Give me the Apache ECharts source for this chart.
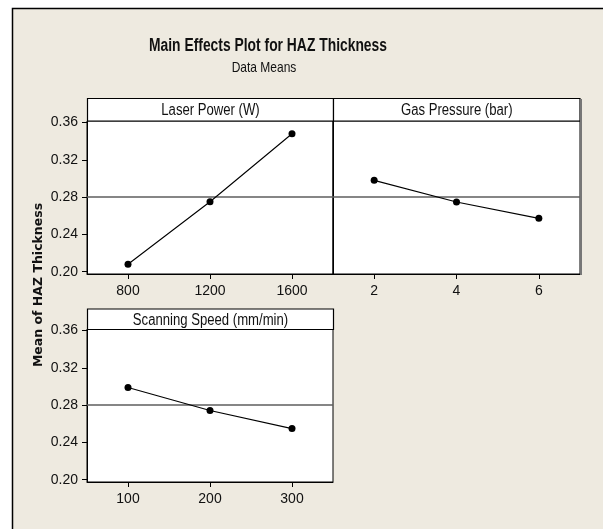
<!DOCTYPE html>
<html>
<head>
<meta charset="utf-8">
<script src="https://cdn.jsdelivr.net/npm/echarts@6/dist/echarts.min.js"></script>
<style>
html,body{margin:0;padding:0;background:#ffffff;}
#chart{width:603px;height:529px;}
</style>
</head>
<body>
<div id="chart"></div>
<script>
// ---- data ----
const titleText = 'Main Effects Plot for HAZ Thickness';
const subtitleText = 'Data Means';
const yAxisTitle = 'Mean of HAZ Thickness';
const panelNames = ['Laser Power (W)', 'Gas Pressure (bar)', 'Scanning Speed (mm/min)'];
const laserLevels = [800, 1200, 1600];
const laserMeans = [0.208, 0.275, 0.348];
const gasLevels = [2, 4, 6];
const gasMeans = [0.298, 0.2747, 0.2572];
const speedLevels = [100, 200, 300];
const speedMeans = [0.299, 0.2742, 0.2548];
const grandMean = 0.2755;
const yTicks = [0.20, 0.24, 0.28, 0.32, 0.36];

const FONT = '"Liberation Sans", Arial, sans-serif';
const chart = echarts.init(document.getElementById('chart'), null, {renderer: 'canvas'});

const grids = [
  {left: 87, top: 121, width: 246, height: 153},
  {left: 333, top: 121, width: 247, height: 153},
  {left: 87, top: 329, width: 246, height: 153}
];
const xRanges = [[600, 1800], [1, 7], [50, 350]];
const xLevels = [laserLevels, gasLevels, speedLevels];
const yMeans = [laserMeans, gasMeans, speedMeans];

function xAxisDef(i) {
  return {
    type: 'value', gridIndex: i, min: xRanges[i][0], max: xRanges[i][1],
    splitLine: {show: false},
    axisLine: {show: true, onZero: false, lineStyle: {color: '#000', width: 1}},
    axisTick: {show: true, inside: false, length: 5, customValues: xLevels[i], lineStyle: {color: '#000'}},
    axisLabel: {show: true, customValues: xLevels[i], margin: 10, color: '#111', fontFamily: FONT, fontSize: 14,
      formatter: v => String(v)}
  };
}
function yAxisDef(i, labels) {
  return {
    type: 'value', gridIndex: i, min: 0.1975, max: 0.3617,
    splitLine: {show: false},
    axisLine: {show: true, lineStyle: {color: '#000', width: 1}},
    axisTick: {show: labels, inside: false, length: 5, customValues: yTicks, lineStyle: {color: '#000'}},
    axisLabel: {show: labels, customValues: yTicks, margin: 9, color: '#111', fontFamily: FONT, fontSize: 14,
      formatter: v => v.toFixed(2)}
  };
}
function seriesDef(i) {
  return {
    type: 'line', xAxisIndex: i, yAxisIndex: i,
    data: xLevels[i].map((x, k) => [x, yMeans[i][k]]),
    symbol: 'circle', symbolSize: 7, silent: true,
    itemStyle: {color: '#000'},
    lineStyle: {color: '#000', width: 1.1},
    z: 5,
    markLine: {
      silent: true, symbol: ['none', 'none'], label: {show: false},
      lineStyle: {color: '#5e5e5e', width: 1.5, type: 'solid'},
      data: [{yAxis: grandMean}]
    }
  };
}

function strip(x, y, w, h, text) {
  return [
    {type: 'rect', shape: {x: x, y: y, width: w, height: h},
      style: {fill: '#fff', stroke: '#000', lineWidth: 1.2}, z: 10},
    {type: 'text', x: x + w / 2, y: y + h / 2 + 1, z: 11, scaleX: 0.82,
      style: {text: text, align: 'center', verticalAlign: 'middle', font: '16px ' + FONT, fill: '#111'}}
  ];
}

const option = {
  backgroundColor: '#ffffff',
  animation: false,
  grid: grids.map(g => Object.assign({show: true, backgroundColor: '#fff', borderColor: '#000', borderWidth: 1}, g)),
  xAxis: [0, 1, 2].map(xAxisDef),
  yAxis: [yAxisDef(0, true), yAxisDef(1, false), yAxisDef(2, true)],
  series: [0, 1, 2].map(seriesDef),
  graphic: [
    {type: 'rect', shape: {x: 12.5, y: 8.5, width: 620, height: 540},
      style: {fill: '#eeeae0', stroke: '#000', lineWidth: 1.5}, z: -10, silent: true},
    {type: 'line', shape: {x1: 581, y1: 99, x2: 581, y2: 275},
      style: {stroke: '#777', lineWidth: 2}, z: 12},
    ...strip(87.5, 98.5, 246, 22.5, panelNames[0]),
    ...strip(333.5, 98.5, 246.5, 22.5, panelNames[1]),
    ...strip(87.5, 309, 246, 20.5, panelNames[2]),
    {type: 'text', x: 268, y: 46, scaleX: 0.77, z: 11,
      style: {text: titleText, align: 'center', verticalAlign: 'middle', font: 'bold 18px ' + FONT, fill: '#111'}},
    {type: 'text', x: 264, y: 68, scaleX: 0.8, z: 11,
      style: {text: subtitleText, align: 'center', verticalAlign: 'middle', font: '15px ' + FONT, fill: '#111'}},
    {type: 'text', x: 39, y: 285, rotation: Math.PI / 2, z: 11,
      style: {text: yAxisTitle, align: 'center', verticalAlign: 'middle',
        font: 'bold 12.5px "DejaVu Sans", Verdana, sans-serif', fill: '#111'}}
  ]
};
chart.setOption(option);
</script>
</body>
</html>
